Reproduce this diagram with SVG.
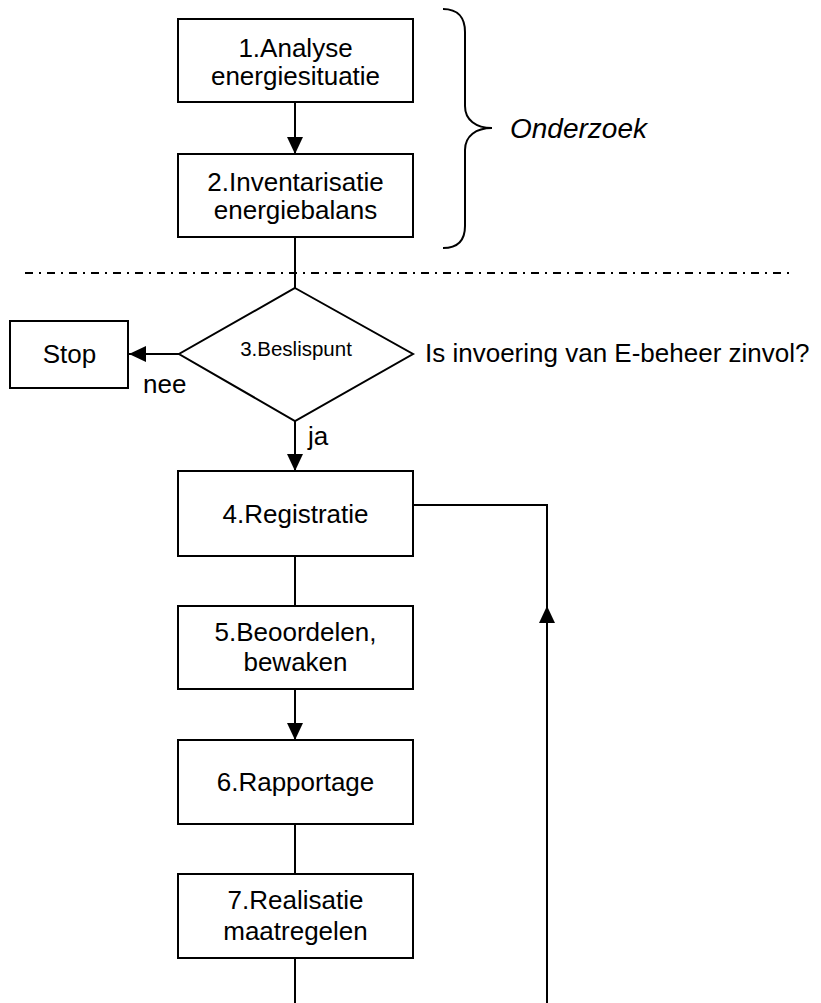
<svg xmlns="http://www.w3.org/2000/svg" width="821" height="1003" viewBox="0 0 821 1003">
<style>
.box{fill:#fff;stroke:#000;stroke-width:2}
.t{font-family:"Liberation Sans",Arial,sans-serif;font-size:26px;fill:#000;text-anchor:middle}
.l{font-family:"Liberation Sans",Arial,sans-serif;font-size:26px;fill:#000}
.c{fill:none;stroke:#000;stroke-width:2}
</style>
<defs>
<marker id="ah" markerUnits="userSpaceOnUse" markerWidth="17" markerHeight="16" refX="17" refY="8" orient="auto">
<path d="M0,0 L17,8 L0,16 Z" fill="#000"/>
</marker>
</defs>
<rect width="821" height="1003" fill="#fff"/>
<g id="connectors">
<line class="c" x1="295" y1="102" x2="295" y2="154" marker-end="url(#ah)"/>
<line class="c" x1="295" y1="237" x2="295" y2="288"/>
<line class="c" x1="179" y1="354" x2="129" y2="354" marker-end="url(#ah)"/>
<line class="c" x1="295" y1="421" x2="295" y2="471" marker-end="url(#ah)"/>
<line class="c" x1="295" y1="556" x2="295" y2="606"/>
<line class="c" x1="295" y1="689" x2="295" y2="740" marker-end="url(#ah)"/>
<line class="c" x1="295" y1="824" x2="295" y2="874"/>
<line class="c" x1="295" y1="958" x2="295" y2="1003"/>
<polyline class="c" points="413,505 547,505 547,1003"/>
<line class="c" x1="547" y1="700" x2="547" y2="606" marker-end="url(#ah)"/>
<text class="l" x="143" y="393">nee</text>
<text class="l" x="308" y="445">ja</text>
</g>
<line x1="25" y1="273" x2="790" y2="273" stroke="#000" stroke-width="2" stroke-dasharray="8 6 2 6"/>
<g id="brace">
<path class="c" d="M443,9 C458,9 465,18 465,32 L465,106 C465,120 476,128 492,128 C476,128 465,136 465,150 L465,226 C465,240 458,248 443,248"/>
<text x="510" y="138" font-family="Liberation Sans, Arial, sans-serif" font-size="28" font-style="italic">Onderzoek</text>
</g>
<g id="n1">
<rect class="box" x="178" y="19" width="235" height="83"/>
<text class="t" x="295.5" y="57">1.Analyse</text>
<text class="t" x="295.5" y="85">energiesituatie</text>
</g>
<g id="n2">
<rect class="box" x="178" y="154" width="235" height="83"/>
<text class="t" x="295.5" y="191">2.Inventarisatie</text>
<text class="t" x="295.5" y="219">energiebalans</text>
</g>
<g id="n3">
<polygon class="box" points="295,288 413,354 295,421 179,354"/>
<text class="t" x="296" y="356" font-size="20.5" style="font-size:20.5px">3.Beslispunt</text>
</g>
<text class="l" x="425" y="362">Is invoering van E-beheer zinvol?</text>
<g id="stop">
<rect class="box" x="10" y="321" width="118" height="67"/>
<text class="t" x="69.5" y="363">Stop</text>
</g>
<g id="n4">
<rect class="box" x="178" y="471" width="235" height="85"/>
<text class="t" x="295.5" y="523">4.Registratie</text>
</g>
<g id="n5">
<rect class="box" x="178" y="606" width="235" height="83"/>
<text class="t" x="295.5" y="641">5.Beoordelen,</text>
<text class="t" x="295.5" y="671">bewaken</text>
</g>
<g id="n6">
<rect class="box" x="178" y="740" width="235" height="84"/>
<text class="t" x="295.5" y="791">6.Rapportage</text>
</g>
<g id="n7">
<rect class="box" x="178" y="874" width="235" height="84"/>
<text class="t" x="295.5" y="909">7.Realisatie</text>
<text class="t" x="295.5" y="940">maatregelen</text>
</g>
</svg>
